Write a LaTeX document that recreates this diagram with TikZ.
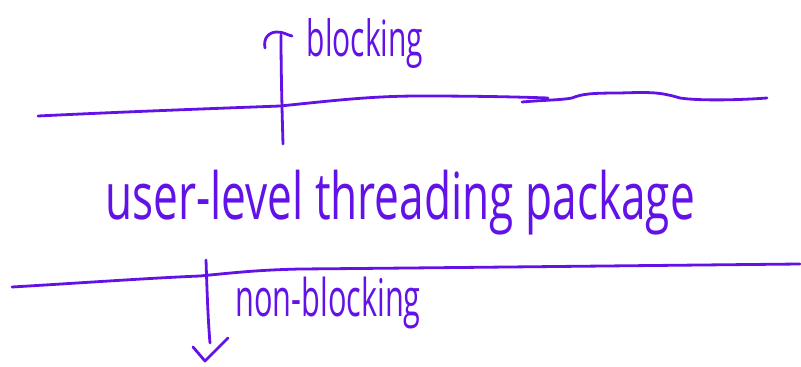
\documentclass[tikz,border=0pt]{standalone}
\usepackage{fontspec}
\setmainfont{Open Sans}
\definecolor{ink}{RGB}{98,18,230}
\tikzset{
  stroke/.style={draw=ink, line width=2.8pt, line cap=round, line join=round},
  hand/.style={text=ink, inner sep=0pt, anchor=center},
}
\begin{document}
\begin{tikzpicture}[x=1pt,y=-1pt]
\useasboundingbox (0,0) rectangle (801,367);

% upper boundary (two strokes)
\draw[stroke] (38,116) .. controls (120,112) and (200,109) .. (280,106)
  .. controls (330,101) and (370,96) .. (420,96)
  .. controls (480,96) and (520,97) .. (548,98);
\draw[stroke] (522,102) .. controls (545,100) and (562,100) .. (572,98)
  .. controls (582,94) and (590,93) .. (620,93)
  .. controls (650,92) and (660,92) .. (680,98)
  .. controls (700,101) and (740,100) .. (767,98);

% lower boundary
\draw[stroke] (12,287) .. controls (80,283) and (150,278) .. (200,276)
  .. controls (240,272) and (260,270) .. (300,269)
  .. controls (420,268) and (600,266) .. (800,264);

% labels
\node[hand, font=\fontsize{50}{52}\selectfont, xscale=0.6] (blk) at (365,44) {blocking};
\node[hand, font=\fontsize{65}{67}\selectfont, xscale=0.68] (pkg) at (400,203) {user-level threading package};
\node[hand, font=\fontsize{52}{54}\selectfont, xscale=0.59] (nblk) at (328,303) {non-blocking};

% upward arrow with hooked head
\coordinate (upbase) at (283,144);
\coordinate (uptip) at (281,35);
\draw[stroke] (upbase) .. controls (282,110) and (281,70) .. (uptip);
\draw[stroke] (265,48) .. controls (263,38) and (269,32) .. (277,32)
  .. controls (284,32) and (287,35) .. (292,36);

% downward arrow with open head
\coordinate (dnbase) at (206,260);
\coordinate (dntip) at (210,343);
\draw[stroke] (dnbase) .. controls (207,290) and (208,320) .. (dntip);
\draw[stroke] (193,347) -- (205,361) -- (228,338);
\end{tikzpicture}
\end{document}
